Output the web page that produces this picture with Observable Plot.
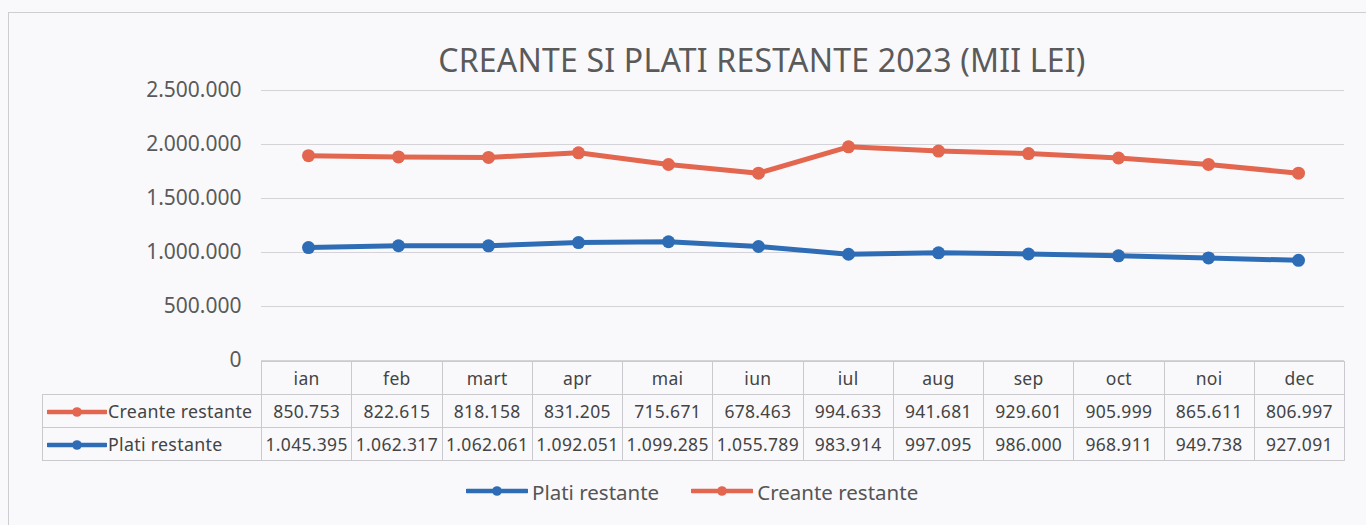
<!DOCTYPE html>
<html>
<head>
<meta charset="utf-8">
<script src="https://cdn.jsdelivr.net/npm/d3@7"></script>
<script src="https://cdn.jsdelivr.net/npm/@observablehq/plot@0.6"></script>
<style>
  html, body { margin: 0; padding: 0; background: #f9f9fc; }
  #wrap { position: relative; width: 1366px; height: 525px; overflow: hidden; font-family: "Noto Sans", sans-serif; }
  #frame { position: absolute; left: 8px; top: 12px; width: 1420px; height: 600px; border-left: 1px solid #cdcdd2; border-top: 1px solid #cdcdd2; }
  #title { position: absolute; top: 38px; left: 762px; transform: translateX(-50%); white-space: nowrap; font-size: 32px; color: #5a5a5a; letter-spacing: 0.2px; }
  #chart { position: absolute; left: 0; top: 0; }
  #table { position: absolute; left: 42px; top: 361px; border-collapse: collapse; table-layout: fixed; font-size: 17.5px; color: #444; letter-spacing: 0.3px; }
  #table td { border: 1px solid #c9c9ce; padding: 0; text-align: center; height: 32px; white-space: nowrap; overflow: visible; }
  #table td.blank { border: none; }
  #table td.lab { text-align: left; padding-left: 4px; font-size: 17.8px; }
  .key { vertical-align: middle; margin-right: 1px; position: relative; top: -1px; }
  #legend { position: absolute; top: 478px; left: 466px; display: flex; align-items: center; font-size: 20.5px; color: #555; white-space: nowrap; }
  #legend .item { display: flex; align-items: center; margin-right: 32px; }
</style>
</head>
<body>
<div id="wrap">
  <div id="frame"></div>
  <div id="title"></div>
  <div id="chart"></div>
  <table id="table"></table>
  <div id="legend"></div>
</div>
<script>
// ---- data ----
const months = ["ian","feb","mart","apr","mai","iun","iul","aug","sep","oct","noi","dec"];
const creante = [850753, 822615, 818158, 831205, 715671, 678463, 994633, 941681, 929601, 905999, 865611, 806997];
const plati = [1045395, 1062317, 1062061, 1092051, 1099285, 1055789, 983914, 997095, 986000, 968911, 949738, 927091];
const seriesNames = ["Creante restante", "Plati restante"];
const legendOrder = ["Plati restante", "Creante restante"];
const seriesColors = ["#e3664f", "#2e6db5"];
const yTicks = [0, 500000, 1000000, 1500000, 2000000, 2500000];
const titleText = "CREANTE SI PLATI RESTANTE 2023 (MII LEI)";

const colorOf = Object.fromEntries(seriesNames.map((s, i) => [s, seriesColors[i]]));
const fmt = d3.formatLocale({decimal: ",", thousands: ".", grouping: [3], currency: ["", ""]}).format(",d");

// stacked line chart: Creante is drawn on top of Plati
const rows = months.flatMap((m, i) => [
  {month: m, series: "Plati restante", value: plati[i], y: plati[i]},
  {month: m, series: "Creante restante", value: creante[i], y: plati[i] + creante[i]}
]);

document.getElementById("title").textContent = titleText;

const chart = Plot.plot({
  width: 1366,
  height: 365,
  marginLeft: 261,
  marginRight: 22,
  marginTop: 90,
  marginBottom: 5,
  style: {background: "transparent", fontFamily: "Noto Sans", overflow: "visible"},
  x: {type: "point", domain: months, padding: 0.5, axis: null},
  y: {domain: [0, 2500000], axis: null},
  color: {domain: seriesNames, range: seriesColors},
  marks: [
    Plot.gridY(yTicks, {stroke: "#d3d3d8", strokeOpacity: 1, strokeWidth: 1.2}),
    Plot.axisY(yTicks, {tickSize: 0, tickPadding: 20, tickFormat: fmt, fontSize: 21, fill: "#5a5a5a", label: null, style: "letter-spacing:1px"}),
    Plot.lineY(rows, {x: "month", y: "y", z: "series", stroke: "series", strokeWidth: 5, strokeLinejoin: "round"}),
    Plot.dot(rows, {x: "month", y: "y", fill: "series", r: 6.5})
  ]
});
document.getElementById("chart").appendChild(chart);

// ---- data table below the chart ----
function keySvg(color, w) {
  return `<svg class="key" width="${w}" height="12"><line x1="1" x2="${w - 1}" y1="6" y2="6" stroke="${color}" stroke-width="4.5" stroke-linecap="round"/><circle cx="${w / 2}" cy="6" r="4.8" fill="${color}"/></svg>`;
}
const table = document.getElementById("table");
const colW = 90.25;
let html = `<colgroup><col style="width:219px">${months.map(() => `<col style="width:${colW}px">`).join("")}</colgroup>`;
html += `<tr><td class="blank"></td>${months.map(m => `<td>${m}</td>`).join("")}</tr>`;
const tableSeries = [["Creante restante", creante], ["Plati restante", plati]];
for (const [name, vals] of tableSeries) {
  html += `<tr><td class="lab">${keySvg(colorOf[name], 60)}${name}</td>${vals.map(v => `<td>${fmt(v)}</td>`).join("")}</tr>`;
}
table.innerHTML = html;

// ---- legend ----
document.getElementById("legend").innerHTML = legendOrder
  .map(name => `<div class="item">${keySvg(colorOf[name], 62)}<span style="margin-left:3px">${name}</span></div>`)
  .join("");
</script>
</body>
</html>
